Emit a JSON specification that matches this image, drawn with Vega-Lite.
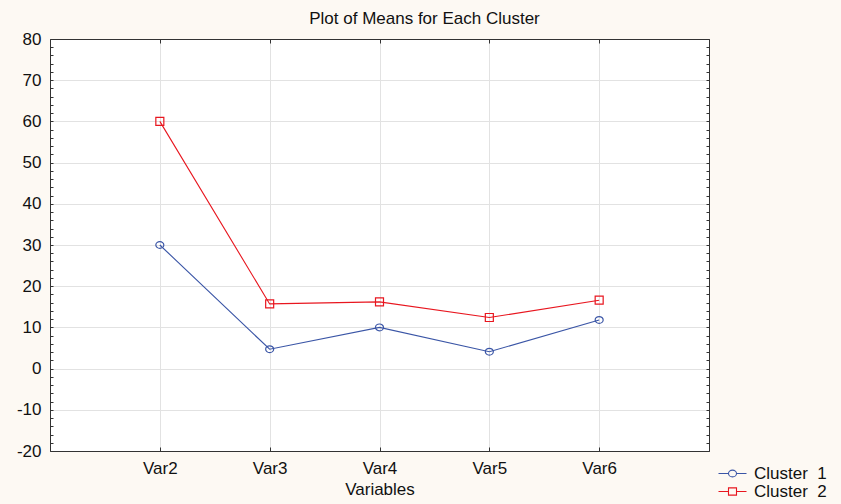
{
  "$schema": "https://vega.github.io/schema/vega-lite/v6.json",
  "width": 659,
  "height": 412,
  "autosize": {"type": "none"},
  "padding": {"left": 50, "top": 39, "right": 132, "bottom": 53},
  "background": "#fdf9f3",
  "config": {
    "view": {"fill": "white", "stroke": "#333", "strokeWidth": 1},
    "font": "Liberation Sans"
  },
  "title": {
    "text": "Plot of Means for Each Cluster",
    "fontSize": 17,
    "font": "Liberation Sans",
    "fontWeight": "normal",
    "color": "#111",
    "anchor": "middle",
    "offset": 2,
    "dx": 45
  },
  "data": {
    "values": [
      {"variable": "Var2", "cluster": "Cluster 1", "mean": 30.0},
      {"variable": "Var3", "cluster": "Cluster 1", "mean": 4.7},
      {"variable": "Var4", "cluster": "Cluster 1", "mean": 10.0},
      {"variable": "Var5", "cluster": "Cluster 1", "mean": 4.1},
      {"variable": "Var6", "cluster": "Cluster 1", "mean": 11.8},
      {"variable": "Var2", "cluster": "Cluster 2", "mean": 60.0},
      {"variable": "Var3", "cluster": "Cluster 2", "mean": 15.7},
      {"variable": "Var4", "cluster": "Cluster 2", "mean": 16.2},
      {"variable": "Var5", "cluster": "Cluster 2", "mean": 12.4},
      {"variable": "Var6", "cluster": "Cluster 2", "mean": 16.6}
    ]
  },
  "layer": [
    {
      "mark": {"type": "line", "strokeWidth": 1.1},
      "encoding": {
        "x": {
          "field": "variable", "type": "ordinal", "sort": null,
          "scale": {"type": "point", "padding": 1},
          "axis": {
            "orient": "bottom", "title": "Variables", "labelAngle": 0,
            "grid": true, "gridColor": "#e2e2e2",
            "tickSize": -4, "tickColor": "#333", "domainColor": "#333",
            "labelPadding": 13, "labelFontSize": 17, "labelColor": "#111",
            "titleFontSize": 17, "titleFontWeight": "normal", "titleColor": "#111",
            "titlePadding": 5
          }
        },
        "y": {
          "field": "mean", "type": "quantitative",
          "scale": {"domain": [-20, 80], "nice": false, "zero": false},
          "axis": {
            "orient": "left", "title": null,
            "values": [-20,-18,-16,-14,-12,-10,-8,-6,-4,-2,0,2,4,6,8,10,12,14,16,18,20,22,24,26,28,30,32,34,36,38,40,42,44,46,48,50,52,54,56,58,60,62,64,66,68,70,72,74,76,78,80],
            "labelExpr": "datum.value % 10 === 0 ? '' + datum.value : ''",
            "labelOverlap": false, "labelBound": false, "labelFlush": false,
            "grid": true, "gridColor": "#e2e2e2",
            "gridOpacity": {"condition": {"test": "datum.value % 10 !== 0", "value": 0}, "value": 1},
            "tickSize": -3,
            "tickColor": "#333", "domainColor": "#333",
            "labelPadding": 12, "labelFontSize": 17, "labelColor": "#111"
          }
        },
        "color": {
          "field": "cluster", "type": "nominal",
          "scale": {"domain": ["Cluster 1", "Cluster 2"], "range": ["#3a55a6", "#e8161f"]},
          "legend": {
            "orient": "none", "legendX": 674, "legendY": 426,
            "title": null, "padding": 0, "rowPadding": 0,
            "symbolSize": 64, "symbolStrokeWidth": 1.1,
            "labelOffset": 13, "labelFontSize": 17, "labelColor": "#111",
            "labelExpr": "replace(datum.label, ' ', '\u00a0 ')",
            "encode": {
              "symbols": {
                "update": {
                  "shape": {"signal": "datum.value === 'Cluster 1' ? 'M-3.5,0L-1,0M1,0L3.5,0M-1,0A1,0.85 0 1 1 1,0A1,0.85 0 1 1 -1,0' : 'M-3.5,0L-1,0M1,0L3.5,0M-1,-0.9L1,-0.9L1,0.9L-1,0.9Z'"},
                  "size": {"value": 64},
                  "fill": {"value": "transparent"},
                  "strokeWidth": {"value": 1.1}
                }
              }
            }
          }
        }
      }
    },
    {
      "mark": {"type": "point", "filled": false, "strokeWidth": 1.2, "opacity": 1},
      "encoding": {
        "x": {
          "field": "variable", "type": "ordinal", "sort": null,
          "scale": {"type": "point", "padding": 1},
          "axis": {
            "orient": "top", "title": null, "labels": false, "grid": false,
            "tickSize": -4, "tickColor": "#333", "domainColor": "#333"
          }
        },
        "y": {
          "field": "mean", "type": "quantitative",
          "scale": {"domain": [-20, 80], "nice": false, "zero": false},
          "axis": {
            "orient": "right", "title": null, "labels": false, "grid": false,
            "values": [-20,-18,-16,-14,-12,-10,-8,-6,-4,-2,0,2,4,6,8,10,12,14,16,18,20,22,24,26,28,30,32,34,36,38,40,42,44,46,48,50,52,54,56,58,60,62,64,66,68,70,72,74,76,78,80],
            "tickSize": -3, "tickColor": "#333", "domainColor": "#333"
          }
        },
        "color": {"field": "cluster", "type": "nominal"},
        "shape": {
          "condition": {"test": "datum.cluster === 'Cluster 2'", "value": "square"},
          "value": "M-1,0A1,0.85 0 1 1 1,0A1,0.85 0 1 1 -1,0"
        },
        "size": {"value": 64}
      }
    }
  ],
  "resolve": {"axis": {"x": "independent", "y": "independent"}}
}
